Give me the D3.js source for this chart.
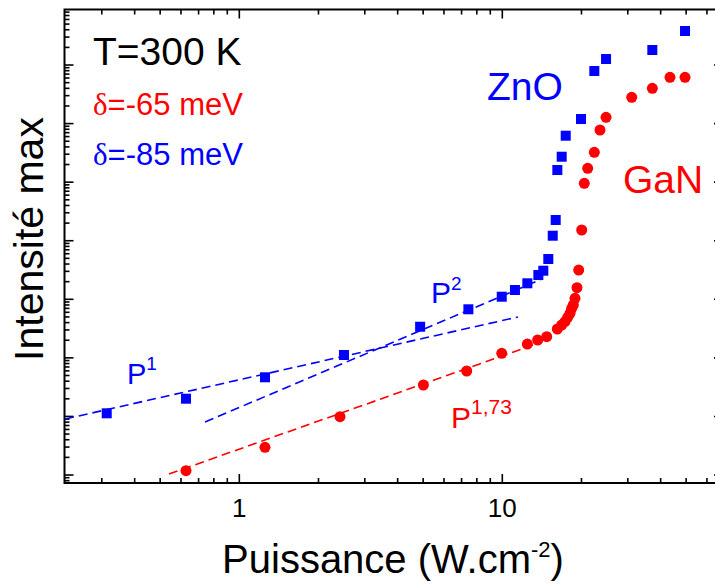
<!DOCTYPE html>
<html><head><meta charset="utf-8">
<script src="https://cdn.jsdelivr.net/npm/d3@7"></script>
<style>html,body{margin:0;padding:0;background:#fff;overflow:hidden}</style>
</head><body>
<svg id="c" width="715" height="584"></svg>
<script>
// ---- data (power in W.cm^-2, intensity in arbitrary units) ----
const znoP = [0.3132,0.627,1.252,2.50,4.87,7.43,9.95,11.17,12.45,13.71,14.32,14.96,15.55,15.96,16.19,16.82,17.42,19.92,22.38,24.80,37.19,49.52];
const znoI = [11.31,20.08,46.6,111.9,340,675,1107,1441,1875,2598,3077,4875,12180,22590,161200,272000,621000,1.197e6,7.90e6,1.266e7,1.804e7,3.81e7];
const ganP = [0.627,1.252,2.415,5.01,7.32,9.95,12.45,13.63,14.75,16.19,16.82,17.31,17.73,18.09,18.36,18.62,18.90,19.23,19.52,20.04,20.50,21.12,22.38,23.52,24.80,31.05,37.19,43.41,49.52];
const ganI = [1.184,2.97,9.90,34.4,59.7,119.7,172.4,201.8,229.8,311,364,414,493,576,702,799,1040,1578,3162,15240,95500,172400,323400,777000,1.281e6,2.81e6,4.00e6,6.17e6,6.17e6];
// power-law guide lines (end points)
const fitP1P = [0.2175, 11.47], fitP1I = [9.04, 498.5];
const fitP2P = [0.7405, 14.16], fitP2I = [8.03, 2221];
const fitGaNP = [0.540, 13.09], fitGaNI = [1.04, 165.8];
const xTickValues = [1, 10];
const xTickLabels = ["1", "10"];
const xDomain = [0.2164, 69.05];
const yDomain = [0.7304, 8.87e7];

const FONT = "'Liberation Sans', Arial, sans-serif";
const BLUE = "#0000ff", RED = "#ff0000";
const svg = d3.select("#c");
const L = 64.5, R = 723, T = 9.5, B = 483;
const x = d3.scaleLog().domain(xDomain).range([L, R]);
const y = d3.scaleLog().domain(yDomain).range([B, T]);

// ticks
function logTicks(dom) {
  const out = [];
  const k0 = Math.floor(Math.log10(dom[0])), k1 = Math.ceil(Math.log10(dom[1]));
  for (let k = k0; k <= k1; k++) for (let m = 1; m <= 9; m++) {
    const v = m * Math.pow(10, k);
    if (v >= dom[0] && v <= dom[1]) out.push({v, major: m === 1});
  }
  return out;
}
const axG = svg.append("g").attr("stroke", "#000").attr("stroke-width", 1.6);
logTicks(xDomain).forEach(t => {
  const px = x(t.v), len = t.major ? 9 : 5;
  axG.append("line").attr("x1", px).attr("x2", px).attr("y1", B).attr("y2", B - len);
  axG.append("line").attr("x1", px).attr("x2", px).attr("y1", T).attr("y2", T + len);
});
logTicks(yDomain).forEach(t => {
  const py = y(t.v), len = t.major ? 9 : 5;
  axG.append("line").attr("x1", L).attr("x2", L + len).attr("y1", py).attr("y2", py);
  axG.append("line").attr("x1", R).attr("x2", R - len).attr("y1", py).attr("y2", py);
});
svg.append("rect").attr("x", L).attr("y", T).attr("width", R - L).attr("height", B - T)
  .attr("fill", "none").attr("stroke", "#000").attr("stroke-width", 2);

// tick labels
xTickValues.forEach((v, i) => {
  svg.append("text").attr("x", x(v)).attr("y", 517).attr("text-anchor", "middle")
    .attr("font-family", FONT).attr("font-size", 26).text(xTickLabels[i]);
});

// clip
svg.append("clipPath").attr("id", "clip").append("rect")
  .attr("x", L).attr("y", T).attr("width", R - L).attr("height", B - T);
const plot = svg.append("g").attr("clip-path", "url(#clip)");

const line = d3.line().x(d => x(d[0])).y(d => y(d[1]));
[[fitP1P, fitP1I, BLUE], [fitP2P, fitP2I, BLUE], [fitGaNP, fitGaNI, RED]].forEach(([P, I, c]) => {
  plot.append("path").datum(P.map((p, i) => [p, I[i]])).attr("d", line)
    .attr("fill", "none").attr("stroke", c).attr("stroke-width", 1.6).attr("stroke-dasharray", "9,5");
});

plot.selectAll(".sq").data(znoP.map((p, i) => [p, znoI[i]])).enter().append("rect")
  .attr("x", d => x(d[0]) - 5).attr("y", d => y(d[1]) - 5).attr("width", 10).attr("height", 10)
  .attr("fill", BLUE);
plot.selectAll(".ci").data(ganP.map((p, i) => [p, ganI[i]])).enter().append("circle")
  .attr("cx", d => x(d[0])).attr("cy", d => y(d[1])).attr("r", 5.5).attr("fill", RED);

// annotations
function txt(xp, yp, size, color, parts) {
  const t = svg.append("text").attr("x", xp).attr("y", yp).attr("font-family", FONT)
    .attr("font-size", size).attr("fill", color);
  parts.forEach(p => {
    const s = t.append("tspan").text(p.t);
    if (p.size) s.attr("font-size", p.size);
    if (p.dy) s.attr("dy", p.dy);
    if (p.fam) s.attr("font-family", p.fam);
  });
  return t;
}
txt(93, 65, 39, "#000", [{t: "T=300 K"}]);
txt(93, 115, 31, RED, [{t: "δ", fam: "'Liberation Serif', serif"}, {t: "=-65 meV"}]);
txt(93, 165, 31, BLUE, [{t: "δ", fam: "'Liberation Serif', serif"}, {t: "=-85 meV"}]);
txt(487, 100, 39, BLUE, [{t: "ZnO"}]);
txt(623, 193, 39, RED, [{t: "GaN"}]);
txt(127, 384, 29, BLUE, [{t: "P"}, {t: "1", size: 19, dy: -14}]);
txt(431, 303, 30, BLUE, [{t: "P"}, {t: "2", size: 19, dy: -13}]);
txt(451, 428, 30, RED, [{t: "P"}, {t: "1,73", size: 21, dy: -14}]);

// axis titles
txt(0, 573, 40, "#000", [{t: "Puissance (W.cm"}, {t: "-2", size: 22, dy: -16}, {t: ")", dy: 16}])
  .attr("x", 393).attr("text-anchor", "middle");
svg.append("text").attr("transform", "translate(43,239) rotate(-90)").attr("text-anchor", "middle")
  .attr("font-family", FONT).attr("font-size", 41).text("Intensité max");
</script>
</body></html>
